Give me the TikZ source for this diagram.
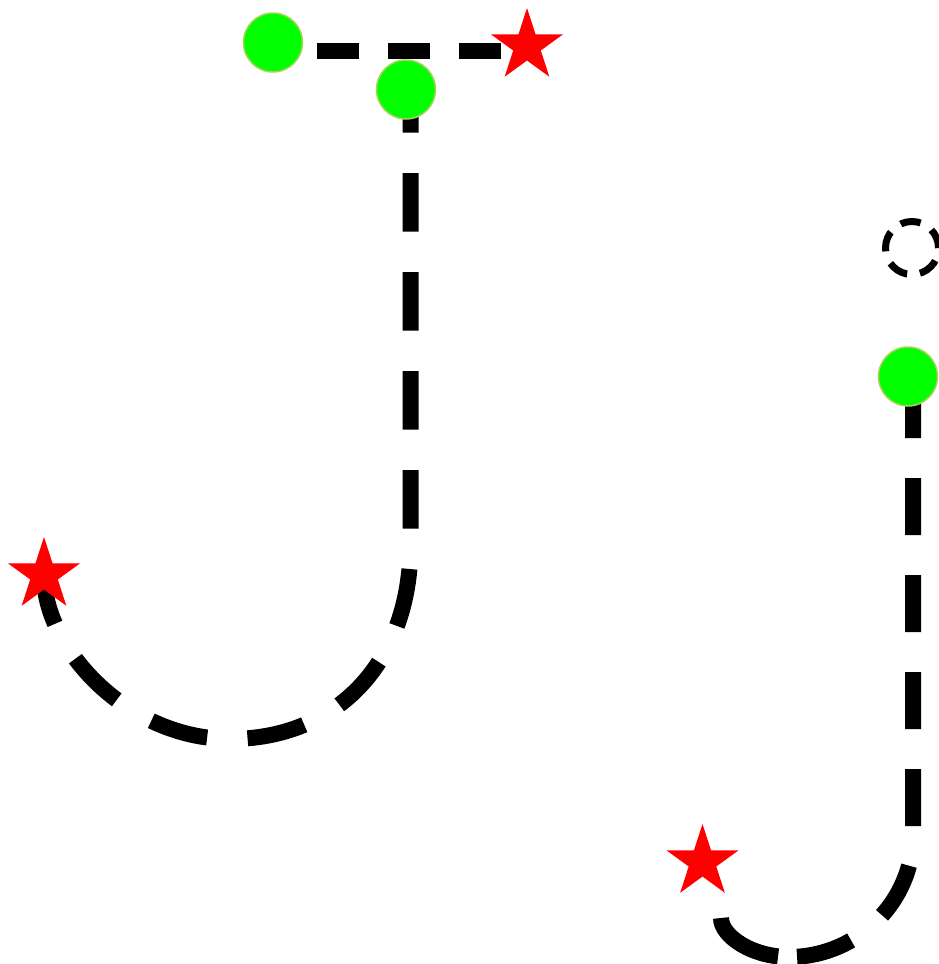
\documentclass[tikz,border=0pt]{standalone}
\usetikzlibrary{shapes.geometric}
\definecolor{gfill}{RGB}{0,255,0}
\definecolor{gline}{RGB}{170,210,90}
\definecolor{sred}{RGB}{255,0,0}
\pgfdeclarelayer{bg}
\pgfsetlayers{bg,main}
\begin{document}
\begin{tikzpicture}[x=1pt,y=-1pt,
  startpt/.style={circle,fill=gfill,draw=gline,line width=1.5pt,minimum size=59pt,inner sep=0pt},
  goal/.style={star,star points=5,star point ratio=2.618,fill=sred,minimum size=76pt,inner sep=0pt},
  marker/.style={circle,draw=black,line width=7pt,minimum size=53pt,inner sep=0pt,dash pattern=on 20.35pt off 12.95pt,dash phase=0.46pt},
  trail/.style={line width=16pt,draw=black}]
\useasboundingbox (0,0) rectangle (939,964);
\node[startpt] (g1) at (273,42.5) {};
\node[startpt] (g2) at (406,89.5) {};
\node[startpt] (g3) at (908,376.5) {};
\node[goal] (s1) at (527,46) {};
\node[goal] (s2) at (44,575) {};
\node[goal] (s3) at (702.5,862) {};
\node[marker] (m) at (912,248) {};
\coordinate (e3) at (721,918);
\begin{pgfonlayer}{bg}
\draw[trail,dash pattern=on 42pt off 29pt,dash phase=27pt]
  ([yshift=-8pt]g1.center) -- ([yshift=-4.5pt]s1.center);
\draw[trail,dash pattern=on 58.5pt off 40.5pt,dash phase=15.5pt]
  ([xshift=4.5pt]g2.center) -- (410.5,545) .. controls (410.5,661) and (338,739) .. (230,739)
  .. controls (128,739) and (44,649) .. (s2.center);
\draw[trail,dash pattern=on 0pt off 4.5pt on 57pt off 40pt on 57pt off 40pt on 57pt off 40pt on 57pt off 40pt on 57pt off 40pt on 57pt off 40pt on 57pt off 19pt on 200pt]
  ([xshift=5pt]g3.center) -- (913,835) .. controls (913,902) and (857,957) .. (789,957)
  .. controls (752,957) and (721,936) .. (e3);
\end{pgfonlayer}
\end{tikzpicture}
\end{document}
